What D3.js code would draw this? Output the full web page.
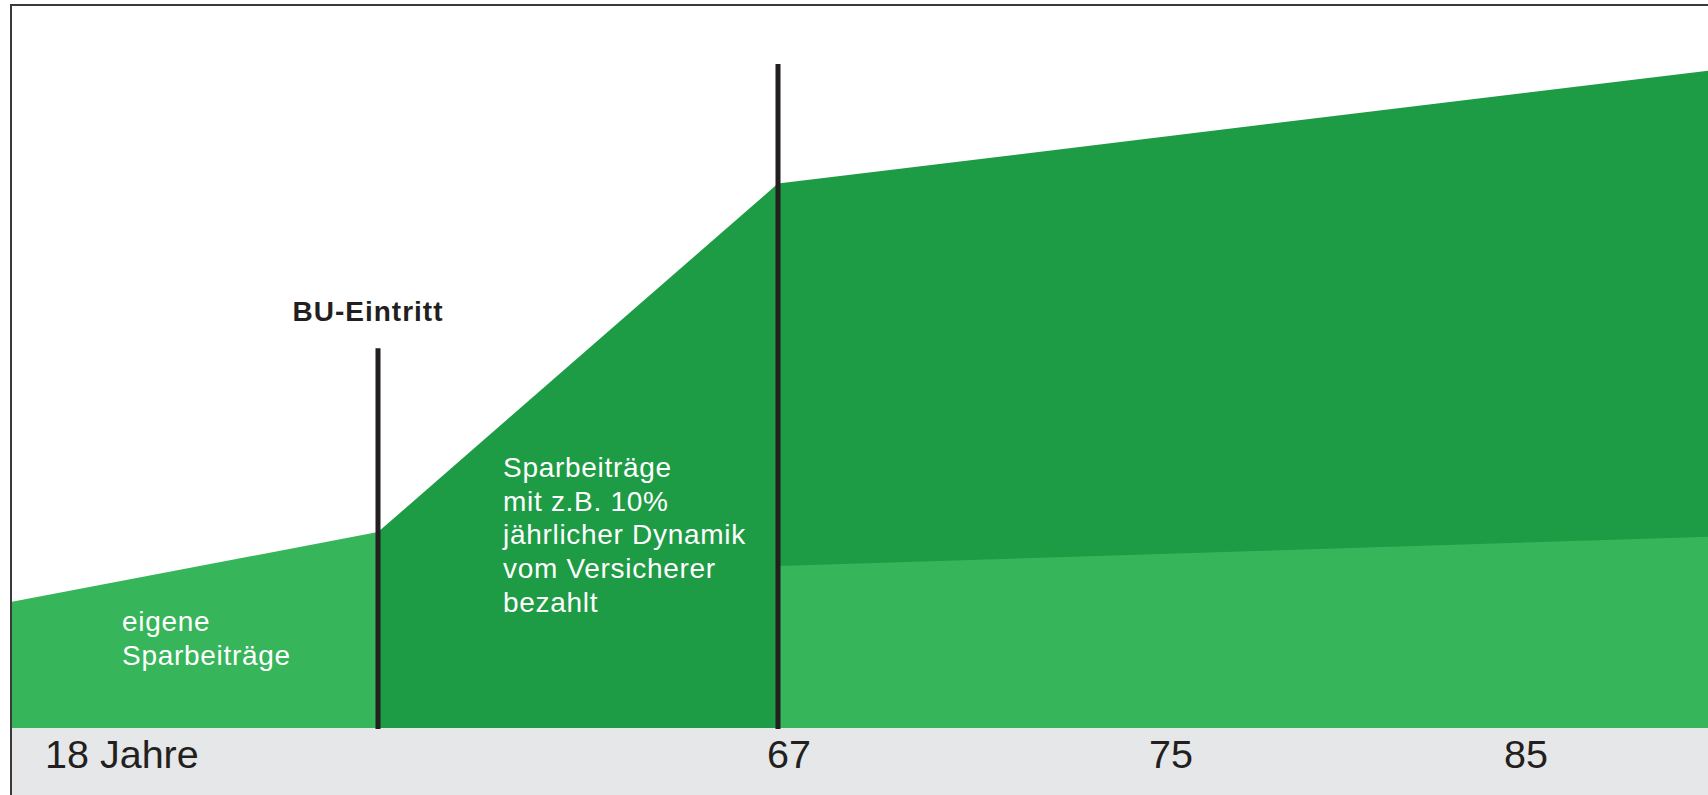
<!DOCTYPE html>
<html lang="de">
<head>
<meta charset="utf-8">
<script src="https://cdn.jsdelivr.net/npm/d3@7"></script>
<style>
  html, body { margin: 0; padding: 0; background: #ffffff; }
  svg { display: block; }
  text { font-family: "Liberation Sans", Arial, Helvetica, sans-serif; }
</style>
</head>
<body>
<svg id="chart" width="1708" height="795"></svg>
<script>
// Ages along the timeline (schematic, not to scale)
const ageStart = 18;
const ageBU = 41;       // onset of occupational disability
const ageRetire = 67;
const ageEnd = 90;

// Own savings contributions until disability
const ownAges = [ageStart, ageBU];
const ownValues = [19, 29.5];

// Contributions paid by the insurer (10% dynamic) and the resulting capital after 67
const insurerAges = [ageBU, ageRetire, ageEnd];
const insurerValues = [29.5, 82, 99];

// Share attributable to own contributions after retirement
const retireOwnAges = [ageRetire, ageEnd];
const retireOwnValues = [24.4, 28.8];

// Event markers
const markerAges = [ageBU, ageRetire];
const markerTops = [57.2, 100];
const markerNames = ["BU-Eintritt", ""];

// Axis labels
const tickAges = [18, 67, 75, 85];
const tickLabels = ["18 Jahre", "67", "75", "85"];

// Text blocks inside the areas
const ownLabel = ["eigene", "Sparbeiträge"];
const insurerLabel = ["Sparbeiträge", "mit z.B. 10%", "jährlicher Dynamik", "vom Versicherer", "bezahlt"];

const colors = {
  light: "#36b55a",
  dark: "#1e9b45",
  band: "#e6e7e8",
  ink: "#231f20",
  frame: "#3a3a3a"
};

const svg = d3.select("#chart");
const W = 1708, H = 795;
const plotLeft = 12, baseY = 728;

// Piecewise time axis: the phases are drawn with different widths
const x = d3.scaleLinear()
  .domain([ageStart, ageBU, ageRetire, 75, 85, ageEnd])
  .range([plotLeft, 378, 778, 1160, 1515, W]);

const y = d3.scaleLinear().domain([0, 100]).range([baseY, 64]);

// Grey band under the timeline
svg.append("rect")
  .attr("x", plotLeft).attr("y", baseY)
  .attr("width", W - plotLeft).attr("height", H - baseY)
  .attr("fill", colors.band);

const area = d3.area()
  .x(d => x(d[0]))
  .y0(y(0))
  .y1(d => y(d[1]));

const zip = (a, b) => a.map((v, i) => [v, b[i]]);

svg.append("path")
  .datum(zip(insurerAges, insurerValues))
  .attr("d", area)
  .attr("fill", colors.dark);

svg.append("path")
  .datum(zip(ownAges, ownValues))
  .attr("d", area)
  .attr("fill", colors.light);

svg.append("path")
  .datum(zip(retireOwnAges, retireOwnValues))
  .attr("d", area)
  .attr("fill", colors.light);

// Vertical event markers
svg.selectAll("line.marker")
  .data(markerAges)
  .join("line")
  .attr("class", "marker")
  .attr("x1", d => x(d)).attr("x2", d => x(d))
  .attr("y1", (d, i) => y(markerTops[i]))
  .attr("y2", y(0) + 1)
  .attr("stroke", colors.ink)
  .attr("stroke-width", 5);

svg.selectAll("text.marker-name")
  .data(markerAges.filter((d, i) => markerNames[i]))
  .join("text")
  .attr("class", "marker-name")
  .attr("x", d => x(d) - 10)
  .attr("y", (d, i) => y(markerTops[i]) - 27)
  .attr("text-anchor", "middle")
  .attr("font-size", 28)
  .attr("font-weight", "bold")
  .attr("letter-spacing", 1)
  .attr("fill", colors.ink)
  .text((d, i) => markerNames[i]);

// Timeline labels
svg.selectAll("text.tick")
  .data(tickAges)
  .join("text")
  .attr("class", "tick")
  .attr("x", (d, i) => i === 0 ? x(d) + 33 : x(d) - 11)
  .attr("y", 768)
  .attr("font-size", 39.5)
  .attr("fill", colors.ink)
  .text((d, i) => tickLabels[i]);

// Area descriptions
function block(lines, x0, y0) {
  svg.append("g")
    .selectAll("text")
    .data(lines)
    .join("text")
    .attr("x", x0)
    .attr("y", (d, i) => y0 + i * 33.7)
    .attr("font-size", 28)
    .attr("letter-spacing", 0.7)
    .attr("fill", "#ffffff")
    .text(d => d);
}
block(ownLabel, x(ageStart) + 110, 631);
block(insurerLabel, x(ageBU) + 125, 477);

// Outer frame
svg.append("rect")
  .attr("x", 11).attr("y", 5)
  .attr("width", W + 10).attr("height", H + 10)
  .attr("fill", "none")
  .attr("stroke", colors.frame)
  .attr("stroke-width", 2);
</script>
</body>
</html>
